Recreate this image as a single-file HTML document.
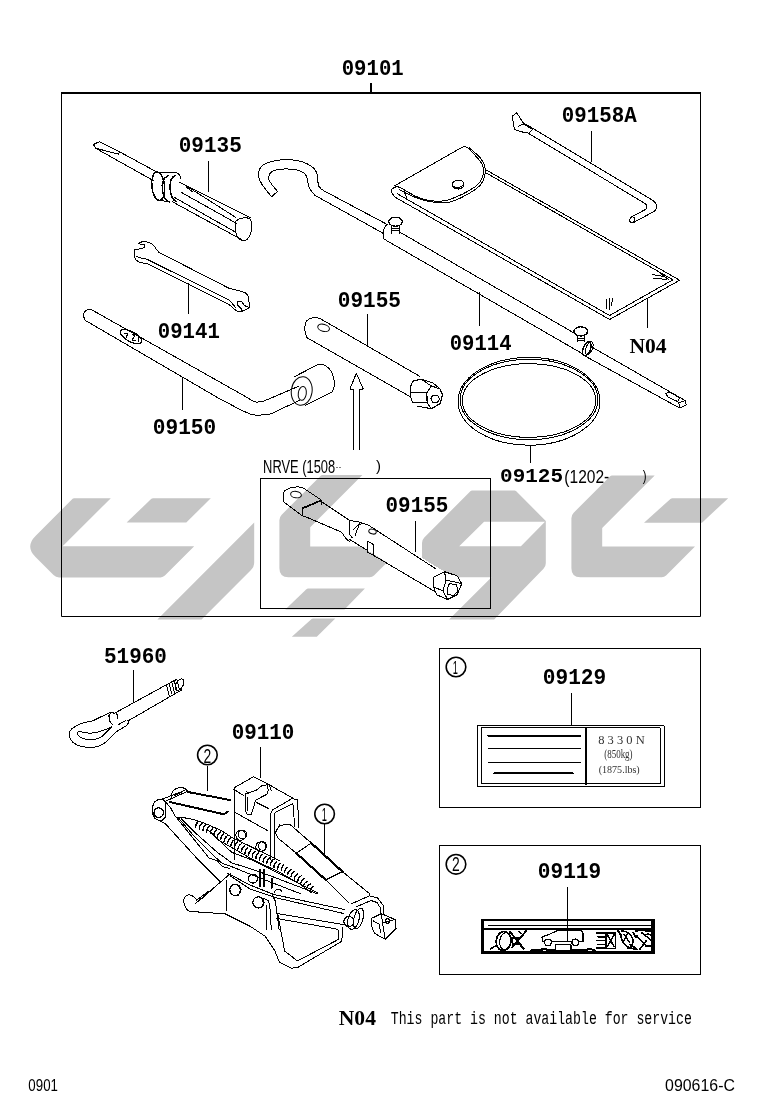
<!DOCTYPE html>
<html><head><meta charset="utf-8"><style>
html,body{margin:0;padding:0;background:#fff;}
svg{display:block;filter:grayscale(1);}
</style></head><body>
<svg width="760" height="1112" viewBox="0 0 760 1112">
<g fill="#c5c5c5" stroke="none"><path d="M72.6,498.8 Q73.2,498.2 74.0,498.2 L110.8,498.2 L62.6,546.3 L194.2,546.3 L164.9,575.6 Q163.1,577.4 160.6,577.4 L59.1,577.4 Q55.8,577.4 53.5,575.1 L35.5,557.1 Q24.9,546.5 35.5,535.9 Z" fill-rule="evenodd"/><path d="M151.1,499.0 Q152.0,498.2 153.2,498.2 L210.8,498.2 L186.3,522.6 L126.6,522.6 Z" fill-rule="evenodd"/><path d="M254.2,522.4 L254.2,562.3 Q254.2,566.9 251.0,570.1 L201.6,619.5 L157.4,619.5 Z" fill-rule="evenodd"/><path d="M320.7,475.7 Q321.3,475.1 322.1,475.1 L362.4,475.1 L310.2,527.3 L310.2,546.4 L403.0,546.4 L374.0,575.4 Q372.2,577.2 369.7,577.2 L288.4,577.2 Q279.4,577.2 279.4,568.2 L279.4,520.3 Q279.4,517.0 281.7,514.7 Z" fill-rule="evenodd"/><path d="M306.1,589.4 Q307.0,588.6 308.2,588.6 L364.9,588.6 L344.5,609.6 L285.3,609.6 Z" fill-rule="evenodd"/><path d="M311.6,618.9 Q312.2,618.4 313.0,618.4 L335.3,618.4 L316.8,636.8 L291.8,636.8 Z" fill-rule="evenodd"/><path d="M470.6,491.1 Q471.2,490.5 472.0,490.5 L514.6,490.5 Q515.4,490.5 516.0,491.1 L545.8,520.9 L545.8,563.2 Q545.8,566.5 543.5,568.8 L494.2,619.5 L449.1,619.5 L491.5,577.2 L434.5,577.2 Q432.0,577.2 430.2,575.4 L422.0,567.0 L422.0,543.0 Q422.0,539.7 424.3,537.4 Z M484.1,521.8 L545.0,521.8 L520.9,546.2 L459.2,546.2 Z" fill-rule="evenodd"/><path d="M610.4,476.0 Q611.0,475.4 611.8,475.4 L654.7,475.4 L602.2,527.9 L602.2,546.5 L695.0,546.5 L666.1,575.4 Q664.3,577.2 661.8,577.2 L580.4,577.2 Q571.4,577.2 571.4,568.2 L571.4,518.3 Q571.4,515.0 573.7,512.7 Z" fill-rule="evenodd"/><path d="M670.4,499.0 Q671.3,498.2 672.4,498.2 L728.2,498.2 L702.0,522.7 L644.0,522.7 Z" fill-rule="evenodd"/></g>
<g fill="none" stroke="#000">
<path d="M61.5,92 V616.5 H700.5 V92" stroke-width="1"/>
<line x1="61" y1="93" x2="701" y2="93" stroke-width="2"/>
<rect x="260.5" y="478.5" width="230" height="130" stroke-width="1"/>
<rect x="439.5" y="648.5" width="261" height="159" stroke-width="1"/>
<rect x="439.5" y="845.5" width="261" height="129" stroke-width="1"/>
<circle cx="456" cy="667" r="9.8" stroke-width="1.6"/>
<circle cx="456" cy="864.3" r="9.8" stroke-width="1.6"/>
<circle cx="207.4" cy="755" r="9.8" stroke-width="1.6"/>
<circle cx="324.6" cy="814" r="9.8" stroke-width="1.6"/>
</g>
<g stroke="#000" fill="none" stroke-linejoin="round" stroke-linecap="round" shape-rendering="crispEdges"><path d="M93.5,144.5 L99.5,141.6 L119.5,151.8 L118.6,154.2 L95.5,148.2 L93.5,144.5" stroke-width="1.0" fill="none"/><path d="M119.5,151.8 L158.7,173.0" stroke-width="1.0" fill="none"/><path d="M95.5,148.2 L154.1,181.0" stroke-width="1.0" fill="none"/><ellipse cx="158.2" cy="186.2" rx="6.4" ry="14.2" transform="rotate(-6 158.2 186.2)" stroke-width="1.5" fill="none"/><path d="M158.5,172 L174.8,172 C178,173 180.5,175.5 181,179" stroke-width="1.0" fill="none"/><path d="M160,200.3 L169.5,202" stroke-width="1.0" fill="none"/><path d="M168,175.5 C163.5,178 161.5,184 162.5,191 C163.5,197 166,201 169.5,202" stroke-width="1.5" fill="none"/><path d="M174.8,175.5 C171,177.5 169.5,183 170.2,190 C171,196 173,200 176,201.5" stroke-width="1.5" fill="none"/><path d="M179.4,182.2 L250.8,217.9" stroke-width="1.0" fill="none"/><path d="M172.5,201.8 L243.9,240.9" stroke-width="1.0" fill="none"/><path d="M236,221 C239,218 245,217 249.5,218.5 C252.5,221 252.5,228 250.5,234 C248.5,239 245,241.5 241.5,240.5 C238,239 235.5,234 235.2,228 C235,225 235.3,222.5 236,221" stroke-width="1.0" fill="none"/><path d="M184.0,184.5 L236.0,217.5" stroke-width="1.0" fill="none"/><path d="M181.7,192.6 L237.0,223.6" stroke-width="1.0" fill="none"/><path d="M174.5,197.5 L234.7,231.7" stroke-width="1.0" fill="none"/><path d="M187.0,187.5 L193.0,192.0" stroke-width="1.0" fill="none"/><path d="M158.8,252.3 C156,249 154.5,246.5 153.7,245.5 C152,243.5 150,242.5 147,242 C143,241.5 139.5,242 138.3,243.7 L144.3,244.8 L145.1,247 L140.8,248.8 L135,249.5 C134.5,252 134.5,255 134.8,257.4 C135.5,259.5 136.5,261 138.3,261.7 C141,262.8 144,263.4 146.8,263.4 L228.9,304.4 C231.5,306.5 234,309.5 237.5,311.3 L240,312.1" stroke-width="1.0" fill="none"/><path d="M136.6,256.5 C140,258 143.5,259 146.8,259.1 L228.9,300.1 C231.5,302 233.5,305 235.8,307.8" stroke-width="1.0" fill="none"/><path d="M158.8,252.3 L228.9,288.2" stroke-width="1.0" fill="none"/><path d="M228.9,288.2 C232,289 235,289.8 237.5,290.4 C241,291.2 244,292 246,293.3 C247.8,294.8 248.6,296 248.6,297.6 L249.5,307.8 L244.5,305.5 L241.5,301.5 L237,301 L237.5,305 L242,309.5 L240,312.1" stroke-width="1.0" fill="none"/><path d="M240.0,312.1 L249.5,307.8" stroke-width="1.0" fill="none"/><path d="M90.3,309 C86,309.5 83.5,312 83.7,316 C84,319 85,321 88,322" stroke-width="1.0" fill="none"/><path d="M90.3,309.0 L244.2,395.8" stroke-width="1.0" fill="none"/><path d="M88.0,322.0 L220.0,399.0" stroke-width="1.0" fill="none"/><path d="M244.2,395.8 C250,399 253,402 256.3,402.1 C262,402.3 266,400.5 269,399 L291,389.5 L299,386" stroke-width="1.0" fill="none"/><path d="M220,399 C232,405 242,411 250,414 C254,415.5 260,415.7 270.5,414 L295.8,402.1 L300,400" stroke-width="1.0" fill="none"/><ellipse cx="131" cy="336.6" rx="12" ry="5" transform="rotate(28 131 336.6)" stroke-width="1.3" fill="none"/><path d="M124,333 L128,333 L126,338 M132,334 L135,336 L132,340 L136,341 M139,336 L138,342" stroke-width="1.0" fill="none"/><ellipse cx="301.7" cy="391" rx="10.4" ry="14.3" transform="rotate(8 301.7 391)" stroke-width="1.0" fill="none"/><ellipse cx="302.3" cy="393.4" rx="4" ry="7" transform="rotate(8 302.3 393.4)" stroke-width="1.0" fill="none"/><path d="M294.2,376.8 L317.1,365.0" stroke-width="1.0" fill="none"/><path d="M305.3,405.3 L332.1,391.8" stroke-width="1.0" fill="none"/><path d="M317.1,365 C324,362.5 331,368 333.5,377 C335,384 334.5,389 332.1,391.8" stroke-width="1.0" fill="none"/><path d="M320.7,318.9 C316,316.5 310,317 306.5,321 C303.8,325 304.5,333 306.8,337.6" stroke-width="1.0" fill="none"/><path d="M320.7,318.9 L419.3,376.1" stroke-width="1.0" fill="none"/><path d="M306.8,337.6 L410.5,396.8" stroke-width="1.0" fill="none"/><ellipse cx="323.6" cy="327.8" rx="6" ry="3.5" transform="rotate(15 323.6 327.8)" stroke-width="1.0" fill="none"/><path d="M413.4,381 C410.5,384 409.8,390 410.5,395 C411,399 412,401.5 413.4,402.8" stroke-width="1.1" fill="none"/><path d="M413.4,381.0 L421.3,379.1 L431.2,386.0" stroke-width="1.0" fill="none"/><path d="M421.3,379.1 L433.1,383.0 L440.0,389.0" stroke-width="1.0" fill="none"/><path d="M431.2,386.0 L440.0,389.0 L442.6,394.9 L440.0,403.7 L431.2,408.7 L427.2,402.8 L426.8,392.9 L431.2,386.0" stroke-width="1.2" fill="none"/><path d="M410.5,392.9 L426.8,392.9" stroke-width="1.0" fill="none"/><path d="M413.4,402.8 L427.2,402.8" stroke-width="1.0" fill="none"/><path d="M417.0,406.0 L431.2,408.7" stroke-width="1.0" fill="none"/><path d="M432.8,395.0 L437.5,395.0 L439.5,398.8 L437.5,402.6 L432.8,402.6 L430.8,398.8 L432.8,395.0" stroke-width="1.0" fill="none"/><path d="M353.6,449.5 L353.6,389.0 L349.9,389.0 L356.4,373.2 L363.2,389.0 L359.1,389.0 L359.1,449.5" stroke-width="1.0" fill="none"/><path d="M269.7,194.4 C265,189 260,183 258.9,177.6 C258,172 259.5,167.5 263,165 C268,161.5 275,160.5 282,159.8 C291,159.2 300,160.5 307.2,163.8 C313,166.5 317,171 317.6,176 C318,180 317.5,184 319,186.5 C320.5,189 323,190.5 325,191.4 L388.2,225" stroke-width="1.0" fill="none"/><path d="M277.6,191.4 C273,186 269,182 268.7,178.5 C268.5,175 270.5,172 274,170.5 C279,168.8 287,168.5 295.4,169.7 C301,170.7 305.5,173 306.8,177 C308,181 308,185 309.5,188 C311,191.5 313,193.5 315.1,195.4 L384.2,233.9" stroke-width="1.0" fill="none"/><path d="M269.7,194.4 L271.7,196.6 L277.6,191.4" stroke-width="1.0" fill="none"/><path d="M386,225.5 C383.5,228 382.6,232 383.4,238.7" stroke-width="1.0" fill="none"/><path d="M400.3,232.4 L574.7,333.4" stroke-width="1.0" fill="none"/><path d="M383.4,238.7 L584.0,354.6" stroke-width="1.0" fill="none"/><ellipse cx="395.5" cy="221.7" rx="6.8" ry="4.5" stroke-width="1.3" fill="none"/><path d="M391.8,225.5 L391.8,233.5" stroke-width="1.0" fill="none"/><path d="M399.2,225.5 L399.2,233.5" stroke-width="1.0" fill="none"/><path d="M392.0,228.0 L399.0,228.0" stroke-width="1.0" fill="none"/><path d="M392.0,230.5 L399.0,230.5" stroke-width="1.0" fill="none"/><ellipse cx="580.7" cy="331.4" rx="6.8" ry="4.6" stroke-width="1.3" fill="none"/><path d="M577.5,335.5 L577.5,341.5" stroke-width="1.0" fill="none"/><path d="M584.0,335.5 L584.0,341.5" stroke-width="1.0" fill="none"/><path d="M577.5,338.0 L584.0,338.0" stroke-width="1.0" fill="none"/><path d="M577.5,340.2 L584.0,340.2" stroke-width="1.0" fill="none"/><ellipse cx="586.8" cy="348.8" rx="3.6" ry="7.4" transform="rotate(22 586.8 348.8)" stroke-width="1.4" fill="none"/><ellipse cx="589.2" cy="348.2" rx="3.2" ry="6.8" transform="rotate(22 589.2 348.2)" stroke-width="1.0" fill="none"/><path d="M592.2,347.2 L685.2,400.6" stroke-width="1.0" fill="none"/><path d="M584.0,355.5 L677.9,407.1" stroke-width="1.0" fill="none"/><path d="M685.2,400.6 L686.2,404.8 L679.7,408.0 L677.9,407.1" stroke-width="1.0" fill="none"/><path d="M678.8,402.6 L685.2,400.6" stroke-width="1.0" fill="none"/><path d="M678.8,402.6 L679.7,408.0" stroke-width="1.0" fill="none"/><path d="M665.9,393.3 L670.5,392.4 L679.7,397.9 L677.9,401.6 L667.7,397.0 L665.9,393.3" stroke-width="1.0" fill="none"/><path d="M394.5,185.8 L462.4,147.1 C465,146.2 467.5,147.2 469,148.5 L479.7,160.5 C483,164.5 484,169.5 483.2,174 C482.5,179 479.5,183.5 475.5,186.5 C469,191 460,196 448.2,200 C440,202 432,201.5 424,199.5 C415,197 408,192 402,188.5 C399,187 396.5,186 394.5,185.8" stroke-width="1.0" fill="none"/><path d="M397.6,186.6 C393,187.5 390.3,189.5 391,191.5 L394.5,196.8" stroke-width="1.0" fill="none"/><path d="M399,189.5 C405,192 411,196 419,198.8 C428,202 438,203 448,202.8 C458,200 468,194.5 476,189 C481.5,185 485,179 485.3,172 C485.5,166 483,161 479.5,157 L469.5,147.5" stroke-width="1.0" fill="none"/><ellipse cx="458" cy="183.8" rx="5.6" ry="3.6" transform="rotate(-8 458 183.8)" stroke-width="1.2" fill="none"/><path d="M452.5,184.5 C452.5,187.5 455,189 458.5,189 C462,188.8 464,187 463.8,184" stroke-width="1.2" fill="none"/><path d="M394.5,196.8 L609.6,319.5 L679.7,280.2 L485.3,169.5" stroke-width="1.0" fill="none"/><path d="M397.5,193.8 L609.6,315.5 L672.9,279.8 L485.5,172.6" stroke-width="1.0" fill="none"/><path d="M404.0,191.0 L406.5,197.0" stroke-width="1.0" fill="none"/><path d="M652,274.5 L664,276.5 M653,278 L667,279.5 M660,273 L669,279.8" stroke-width="1.0" fill="none"/><path d="M606,299 L606.5,309 M610,298 L609,310 M612.5,299 L611.5,306" stroke-width="1.0" fill="none"/><path d="M512.1,116.1 L516.8,112.9 L523.2,122.8 L532.6,128.3 L653.0,200.5" stroke-width="1.0" fill="none"/><path d="M512.1,116.1 L514.5,129.5 L523.2,132.2 L527.9,133.0 L644.7,203.3" stroke-width="1.0" fill="none"/><path d="M518.4,126.3 L523.2,123.9 L532.6,129.5 L529.5,132.2" stroke-width="1.0" fill="none"/><path d="M653,200.5 C657,203 658,208 654,211.5 L633.5,222.5" stroke-width="1.0" fill="none"/><path d="M644.7,203.3 C647.5,205 647.5,208 645.5,209.5 L630.9,217.1" stroke-width="1.0" fill="none"/><ellipse cx="632.2" cy="219.8" rx="2.3" ry="3" transform="rotate(20 632.2 219.8)" stroke-width="1.0" fill="none"/><ellipse cx="529" cy="401.3" rx="71" ry="43.9" stroke-width="1.0" fill="none"/><ellipse cx="529" cy="399.5" rx="68.9" ry="40.2" stroke-width="1.0" fill="none"/><ellipse cx="529" cy="400.5" rx="66.8" ry="36.9" stroke-width="1.0" fill="none"/><path d="M113.3,713.9 L166.0,685.0" stroke-width="1.0" fill="none"/><path d="M127.9,721.0 L168.5,697.5" stroke-width="1.0" fill="none"/><ellipse cx="179.5" cy="684.8" rx="3.5" ry="6.5" transform="rotate(30 179.5 684.8)" stroke-width="1.0" fill="none"/><path d="M166,685 L176.5,679.5 M168.5,697.5 L181.8,689.8" stroke-width="1.0" fill="none"/><path d="M166.5,684.5 L169.1,695.5" stroke-width="1.0" fill="none"/><path d="M169.1,683.2 L171.7,694.0" stroke-width="1.0" fill="none"/><path d="M171.7,681.9 L174.3,692.5" stroke-width="1.0" fill="none"/><path d="M174.3,680.6 L176.9,691.0" stroke-width="1.0" fill="none"/><path d="M176.9,679.3 L179.5,689.5" stroke-width="1.0" fill="none"/><path d="M111.6,712.2 C107,713.5 103,716 92.8,720.8 C85,722 77,724.5 71.5,729 C68.5,732 68.8,737 70.8,740 C73.5,744 79,746.8 88,747.5 C96,747.8 102,745.5 106.5,741.5 C111,737.5 114.5,733 118.4,730.2 C121.5,728.5 125,727 127,725 C129,723 128.5,721 127.9,720.5" stroke-width="1.0" fill="none"/><path d="M111.6,726.7 C106,730 100,731.5 96,732.5 C91,733.5 86,733.3 82,732 C79,731 77,732 77.4,733.5 C78,736 82,738.5 87.7,739.6 C93,740.3 98,739 102,736.5 C105,734 108,730.5 111.6,726.7" stroke-width="1.0" fill="none"/><path d="M108,717 L110.5,713 L113.5,712.5 M110,716.5 C109,720 110,723 113,724.5" stroke-width="1.0" fill="none"/><path d="M113.3,713.9 L116.5,712.5 L118,718.5" stroke-width="1.0" fill="none"/><path d="M118.5,724.5 L126,720.5" stroke-width="1.0" fill="none"/><path d="M153.2,804.2 C155,801 158,799.5 160.5,799.5 C163,798.8 165,800.5 165.8,804.2 L165.8,816.8 C164,819.5 161.5,820.8 159.5,820.5 C156,820 153,817 152.6,812 C152.4,808.5 152.6,806 153.2,804.2" stroke-width="1.2" fill="none"/><circle cx="158.7" cy="812.6" r="4.8" stroke-width="1.2" fill="none"/><path d="M171.8,797 C171,792.5 174,789 178.5,787.8 C181.5,787 185,787.5 188.4,792.1" stroke-width="1.2" fill="none"/><path d="M188.4,792.1 L230.0,800.0" stroke-width="2" fill="none"/><path d="M170.0,802.1 L223.7,814.2 L227.9,811.6" stroke-width="2" fill="none"/><path d="M162.6,799.0 L184.7,790.5" stroke-width="1.0" fill="none"/><path d="M164.7,801.6 L186.8,791.6" stroke-width="1.0" fill="none"/><path d="M174.0,796.0 L183.0,791.5" stroke-width="1.0" fill="none"/><path d="M159.5,820.5 L165.8,824.2 L198.4,860.0 L220.7,882.0" stroke-width="1.0" fill="none"/><path d="M165.8,802.1 L171.0,808.4 L174.2,814.7 L209.0,858.0 L217.4,861.0 L222.6,866.8 L229.2,868.2" stroke-width="1.0" fill="none"/><path d="M178.4,817.9 L195.0,837.2 L221.3,862.9 L230.5,866.2 L251.6,874.7 L300.0,893.5" stroke-width="1.0" fill="none"/><path d="M181.6,819.0 L195.0,832.6 L217.4,852.4 L231.8,862.9 L252.9,869.5 L273.7,877.1 L317.9,894.0" stroke-width="1.0" fill="none"/><path d="M208.2,830.0 L231.8,852.4 L252.9,860.3 L317.9,892.9" stroke-width="1.0" fill="none"/><path d="M227.9,873.4 L250.0,885.0 L273.7,894.5 L344.7,909.5" stroke-width="1.0" fill="none"/><path d="M230.5,876.0 L250.0,889.0 L275.3,897.6 L343.2,913.4" stroke-width="1.0" fill="none"/><path d="M276.8,913.4 L343.2,924.5" stroke-width="1.0" fill="none"/><path d="M230.5,873.4 L220.7,882.0 L195.0,903.7" stroke-width="1.0" fill="none"/><path d="M226.6,880.0 L226.6,910.3" stroke-width="1.0" fill="none"/><path d="M263.4,898.4 L268.7,901.0 L270.0,909.0 L271.3,930.0" stroke-width="1.0" fill="none"/><path d="M266.7,906.3 L266.7,930.0" stroke-width="1.0" fill="none"/><path d="M272.6,895.8 L275.3,901.0 L279.2,930.0" stroke-width="1.0" fill="none"/><circle cx="235.4" cy="889.9" r="5.6" stroke-width="1.2" fill="none"/><path d="M237,884.8 C240.5,886.5 241.5,892 238.5,895" stroke-width="1.2" fill="none"/><circle cx="258.4" cy="902.4" r="5.6" stroke-width="1.2" fill="none"/><path d="M260,897.3 C263.5,899 264.5,904.5 261.5,907.5" stroke-width="1.2" fill="none"/><circle cx="252.9" cy="878.7" r="4.4" stroke-width="1.2" fill="none"/><path d="M260.1,870.1 L260.1,886.6" stroke-width="1.6" fill="none"/><path d="M264.1,870.1 L264.1,886.6" stroke-width="1.6" fill="none"/><path d="M271.8,878.7 L271.8,887.9" stroke-width="1.6" fill="none"/><path d="M274,893 C275,889 279,888 281.8,891" stroke-width="1.2" fill="none"/><path d="M177.4,817.1 C186,817.5 194,819.5 201.3,822 C210,825.5 216,828 221.8,831 C226,833.5 229,835.5 232.1,837.5 L280,861" stroke-width="1.0" fill="none"/><path d="M218.4,840 L252.6,859.5 L280,872.5 L300,884 L312,893" stroke-width="1.0" fill="none"/><path d="M195.7,827.4 Q195.5,823.9 198.3,821.6" stroke-width="1.3" fill="none"/><path d="M199.4,829.0 Q199.2,825.5 202.0,823.2" stroke-width="1.3" fill="none"/><path d="M203.0,830.7 Q202.9,827.1 205.6,824.8" stroke-width="1.3" fill="none"/><path d="M206.7,832.3 Q206.5,828.7 209.3,826.4" stroke-width="1.3" fill="none"/><path d="M210.3,833.9 Q210.2,830.3 212.9,828.0" stroke-width="1.3" fill="none"/><path d="M213.6,835.5 Q213.8,831.9 216.8,829.9" stroke-width="1.3" fill="none"/><path d="M217.1,837.5 Q217.3,833.9 220.3,831.9" stroke-width="1.3" fill="none"/><path d="M220.6,839.5 Q220.8,835.9 223.8,833.9" stroke-width="1.3" fill="none"/><path d="M224.1,841.4 Q224.3,837.9 227.2,835.9" stroke-width="1.3" fill="none"/><path d="M227.5,843.4 Q227.7,839.8 230.7,837.9" stroke-width="1.3" fill="none"/><path d="M230.9,845.4 Q231.2,841.9 234.2,839.9" stroke-width="1.3" fill="none"/><path d="M234.4,847.5 Q234.6,843.9 237.6,842.0" stroke-width="1.3" fill="none"/><path d="M237.8,849.5 Q238.1,845.9 241.1,844.0" stroke-width="1.3" fill="none"/><path d="M241.3,851.5 Q241.5,848.0 244.5,846.0" stroke-width="1.3" fill="none"/><path d="M245.0,853.6 Q245.0,850.0 247.8,847.8" stroke-width="1.3" fill="none"/><path d="M248.7,855.3 Q248.6,851.7 251.4,849.5" stroke-width="1.3" fill="none"/><path d="M252.3,857.0 Q252.2,853.4 255.0,851.2" stroke-width="1.3" fill="none"/><path d="M255.9,858.7 Q255.8,855.1 258.6,852.9" stroke-width="1.3" fill="none"/><path d="M259.5,860.4 Q259.4,856.9 262.2,854.6" stroke-width="1.3" fill="none"/><path d="M263.1,862.1 Q263.0,858.6 265.9,856.4" stroke-width="1.3" fill="none"/><path d="M266.7,863.9 Q266.7,860.3 269.5,858.1" stroke-width="1.3" fill="none"/><path d="M270.3,865.6 Q270.3,862.0 273.1,859.8" stroke-width="1.3" fill="none"/><path d="M274.0,867.3 Q273.9,863.7 276.7,861.5" stroke-width="1.3" fill="none"/><path d="M277.6,869.0 Q277.5,865.4 280.3,863.2" stroke-width="1.3" fill="none"/><path d="M281.2,870.7 Q281.1,867.2 283.9,864.9" stroke-width="1.3" fill="none"/><path d="M284.3,872.4 Q284.7,868.8 287.8,867.1" stroke-width="1.3" fill="none"/><path d="M287.6,874.6 Q288.1,871.0 291.2,869.3" stroke-width="1.3" fill="none"/><path d="M291.0,876.8 Q291.4,873.3 294.5,871.5" stroke-width="1.3" fill="none"/><path d="M294.3,879.0 Q294.7,875.5 297.8,873.7" stroke-width="1.3" fill="none"/><path d="M297.6,881.3 Q298.1,877.7 301.2,875.9" stroke-width="1.3" fill="none"/><path d="M300.5,883.5 Q301.3,880.1 304.6,878.6" stroke-width="1.3" fill="none"/><path d="M303.5,886.1 Q304.3,882.6 307.6,881.2" stroke-width="1.3" fill="none"/><path d="M306.6,888.7 Q307.4,885.2 310.7,883.8" stroke-width="1.3" fill="none"/><path d="M309.7,891.2 Q310.5,887.7 313.8,886.3" stroke-width="1.3" fill="none"/><path d="M234.0,859.5 L234.0,787.9 L253.4,776.8 L269.2,784.7 L271.3,791.0" stroke-width="1.0" fill="none"/><path d="M234.0,789.5 L244.0,795.8" stroke-width="1.0" fill="none"/><path d="M245,794.2 L256.6,790 L261.8,785.8 L267.1,784.7 L268.2,790 L267.1,794.2 L260.8,797.4 L255.5,800.5 L253.4,807.9 L251.3,814.2 L247.1,814.2 L245,810 Z" stroke-width="1.0" fill="none"/><path d="M247.5,797.0 L247.5,811.0" stroke-width="1.0" fill="none"/><path d="M256.6,802.6 L268.2,808.4" stroke-width="1.0" fill="none"/><path d="M234.5,812.1 L268.2,831.0" stroke-width="1.0" fill="none"/><path d="M246.5,791.5 L249.0,794.0" stroke-width="1.0" fill="none"/><path d="M270.3,859.5 L270.3,814.2 L272.4,810.0 L292.4,798.4 L297.6,800.0 L298.7,827.9" stroke-width="1.0" fill="none"/><path d="M274.5,859.5 L274.5,814.2 L275.5,812.1 L292.4,803.7 L293.4,805.8 L294.5,826.8" stroke-width="1.0" fill="none"/><path d="M269.2,784.7 L275.5,788.4 L292.4,797.9" stroke-width="1.0" fill="none"/><circle cx="240.8" cy="835.3" r="5.0" stroke-width="1.0" fill="none"/><circle cx="242.5" cy="834.5" r="4.2" stroke-width="1.0" fill="none"/><circle cx="260.8" cy="846.8" r="5.0" stroke-width="1.0" fill="none"/><circle cx="262.5" cy="846" r="4.2" stroke-width="1.0" fill="none"/><path d="M275.3,832.1 C277,828 281,825 284.5,824.5 C287,824 289,824 289.7,824.2" stroke-width="1.0" fill="none"/><path d="M289.7,824.2 L310.8,842.6" stroke-width="1.0" fill="none"/><path d="M310.8,842.6 L342.4,871.6" stroke-width="2.2" fill="none"/><path d="M342.4,871.6 L370.0,894.0" stroke-width="1.0" fill="none"/><path d="M277.9,838.0 L296.3,853.2" stroke-width="1.0" fill="none"/><path d="M296.3,853.2 L325.3,879.5" stroke-width="2.2" fill="none"/><path d="M325.3,879.5 L349.0,903.2" stroke-width="1.0" fill="none"/><path d="M296.3,853.2 L310.8,843.3" stroke-width="1.0" fill="none"/><path d="M325.3,880.1 L342.4,871.6" stroke-width="1.0" fill="none"/><path d="M275.3,832.1 L277.9,838.0" stroke-width="1.0" fill="none"/><path d="M275.5,833.2 L279.7,824.7" stroke-width="1.0" fill="none"/><circle cx="348.8" cy="921.5" r="5" stroke-width="1.2" fill="none"/><ellipse cx="353.5" cy="919.5" rx="5.5" ry="10" transform="rotate(15 353.5 919.5)" stroke-width="1.1" fill="none"/><ellipse cx="358.5" cy="918.5" rx="4.5" ry="10.5" transform="rotate(15 358.5 918.5)" stroke-width="1.1" fill="none"/><path d="M351.7,903.7 L369.5,895.8 L377.4,897.8 L383.3,905.7 L383.3,913.6" stroke-width="1.0" fill="none"/><path d="M356.0,907.0 L371.0,900.5 L377.0,902.5 L380.5,908.0 L380.5,914.0" stroke-width="1.0" fill="none"/><path d="M370.0,894.0 L369.5,895.8" stroke-width="1.0" fill="none"/><path d="M371.4,918.5 L381.3,913.6 L395.1,919.5 L396.1,928.4 L385.3,939.2 L374.4,933.3 L371.4,925.4 L371.4,918.5" stroke-width="1.0" fill="none"/><path d="M381.3,913.6 L382.5,923.0 L395.1,919.5" stroke-width="1.0" fill="none"/><path d="M382.5,923.0 L385.3,939.2" stroke-width="1.0" fill="none"/><path d="M373.5,921.0 L379.5,924.5 L380.5,933.0" stroke-width="1.0" fill="none"/><circle cx="387.5" cy="921" r="2.2" stroke-width="1.0" fill="none"/><path d="M226.2,877.1 L197.8,902 C196,898.5 193,895.5 189.5,894.9 C186.5,894.6 184.3,896 183.6,900.8 C184,905 186,909.5 189.5,911.4 L225,913.8 L251,926.8 L265.3,936.3 L274.7,950.5 L279.5,962.4 L291.3,968.3 L298.4,967.1 L341.8,941.2 L342.8,927.4" stroke-width="1.0" fill="none"/><path d="M208.4,891.3 L197.0,900.0" stroke-width="1.0" fill="none"/><path d="M266.5,905.5 L266.5,929.2" stroke-width="1.0" fill="none"/><path d="M277.7,913.6 L284.6,951.0 L297.4,960.9 L338.9,939.2 L337.9,929.3 L276.7,918.5" stroke-width="1.0" fill="none"/><rect x="477.5" y="725.5" width="186.5" height="61" stroke-width="1" fill="none"/><rect x="481" y="727.8" width="179" height="56" stroke-width="1" fill="none"/><path d="M586.0,727.8 L586.0,783.8" stroke-width="1.8" fill="none"/><path d="M488.0,735.6 L580.5,735.6" stroke-width="2" fill="none"/><path d="M488.0,748.5 L580.5,748.5" stroke-width="1.0" fill="none"/><path d="M488.0,762.4 L580.5,762.4" stroke-width="1.0" fill="none"/><path d="M494.2,773.4 L572.6,773.4" stroke-width="2" fill="none"/><path d="M481,919 H655 V954 H481 Z M484,921 V951 H651 V921 Z" fill="#000" stroke="none" fill-rule="evenodd"/><rect x="484" y="928" width="167" height="2" fill="#000" stroke="none"/><rect x="488" y="925" width="163" height="1" fill="#000" stroke="none"/><ellipse cx="503.5" cy="941" rx="7.3" ry="9.6" transform="rotate(8 503.5 941)" stroke-width="1.6" fill="none"/><ellipse cx="505.5" cy="941.2" rx="5.8" ry="8.7" transform="rotate(8 505.5 941.2)" stroke-width="1.2" fill="none"/><path d="M490.5,949 L496,945.5 L499,949" stroke-width="1.5" fill="none"/><path d="M510.2,932.1 L523.8,948.7 M526.2,930.9 L512,947.5" stroke-width="2" fill="none"/><rect x="512.5" y="938" width="6" height="6" stroke-width="1.2" fill="none"/><path d="M518,931 L522,934 M520,946 L525,949" stroke-width="1.2" fill="none"/><path d="M531,950.5 L541,950.5 L543,948.5 L546,949.5 L555,950.5" stroke-width="2.2" fill="none"/><path d="M542.8,941.4 L542,937.1 L548.8,934.5 L558.2,930.3 L581.3,930.3 L583,933.7 L583,941.4 L579,941.4 M571.5,941.4 L551.5,941.4 M544.5,941.4 L542.8,941.4" stroke-width="1.2" fill="none"/><circle cx="548" cy="942.4" r="3.3" stroke-width="1.3" fill="none"/><circle cx="575.3" cy="942.4" r="3.3" stroke-width="1.3" fill="none"/><rect x="555.7" y="944.8" width="15.3" height="6" stroke-width="1.2" fill="#fff"/><path d="M571,950.5 L586,950.5 L589,948.5 L595,950.5" stroke-width="2.2" fill="none"/><rect x="606" y="932.8" width="9.5" height="15.8" stroke-width="1.6" fill="none"/><path d="M607.5,935 L614,946.5 M614,935 L607.5,946.5" stroke-width="1.5" fill="none"/><path d="M596.5,933 L606,933 M598,936.8 L606,936.8 M596.5,940.5 L606,940.5 M598,944.2 L606,944.2 M596.5,948 L606,948" stroke-width="1.4" fill="none"/><path d="M618,931 L621,935 C621,941 625,946 630,948 L637,949.5" stroke-width="1.8" fill="none"/><path d="M622,931 C627,931 632,935 633,940 C633.5,944 631,947 628,948.5" stroke-width="1.6" fill="none"/><path d="M624,934 L630,943 M628,932.5 L624,941 M633,932 L636,938 M630,945 L636,948" stroke-width="1.4" fill="none"/><path d="M636,931 C641,930 646,931 650,931 M637,936 L646,946 L651,946 M640,949 L646,941 M642,933 L651,940" stroke-width="1.5" fill="none"/><path d="M645,935 C648,933 650,934 651,936" stroke-width="1.2" fill="none"/><path d="M349.7,520.5 L359.2,522.1 L368.7,525.3 L444.5,571.7 L457.1,575.8 L461.8,583.7 L457.1,594.7 L447.6,599.5 L436.6,594.7 L435,591.6 L349.7,539.5 Z" stroke-width="0" fill="#fff"/><path d="M321.3,500 L302.4,487.4 C295,486 286,488 283.6,492.5 C283,495 283.2,498 283.4,501.6 L302.4,515.8 L302.4,507.9 L321.3,500 L321.3,504.7" stroke-width="1.0" fill="none"/><ellipse cx="296" cy="494.6" rx="5.4" ry="3.2" transform="rotate(8 296 494.6)" stroke-width="1.0" fill="none"/><path d="M302.4,507.9 L302.4,515.8" stroke-width="1.0" fill="none"/><path d="M303.0,508.5 L320.5,501.0" stroke-width="1.0" fill="none"/><path d="M321.3,501.6 L349.7,520.5" stroke-width="1.0" fill="none"/><path d="M302.4,515.8 C303.5,516.2 304.5,516.6 305.5,516.7 L340.3,531.6 C343,533.5 344.5,536 345.5,538 C346.5,539.5 347.5,540.5 349.7,541.3" stroke-width="1.0" fill="none"/><path d="M349.7,520.5 L359.2,522.1 L368.7,525.3" stroke-width="1.0" fill="none"/><path d="M349.7,520.5 L349.7,534.7 L352.0,537.5" stroke-width="1.0" fill="none"/><path d="M352.9,530.0 L357.6,525.3 L362.0,523.5" stroke-width="1.0" fill="none"/><path d="M355.0,535.5 L359.5,524.0" stroke-width="1.0" fill="none"/><ellipse cx="372.5" cy="531.6" rx="3.8" ry="2.3" transform="rotate(15 372.5 531.6)" stroke-width="1.0" fill="none"/><path d="M349.7,539.5 L367.1,550.2" stroke-width="1.0" fill="none"/><path d="M367.1,541.0 L367.1,552.0 L373.4,555.3 L373.4,544.5 L367.1,541.0" stroke-width="1.0" fill="none"/><path d="M368.7,525.3 L436.0,569.0" stroke-width="1.0" fill="none"/><path d="M373.4,555.3 L435.0,591.6" stroke-width="1.0" fill="none"/><path d="M433.4,577.4 L444.5,571.7 L457.1,575.8 L461.8,583.7 L457.1,594.7 L447.6,599.5 L436.6,594.7 L433.4,586.8 L433.4,577.4" stroke-width="1.0" fill="none"/><path d="M444.5,571.7 L446.0,580.0 L461.8,583.7" stroke-width="1.0" fill="none"/><path d="M446.0,580.0 L443.0,591.0 L447.6,599.5" stroke-width="1.0" fill="none"/><path d="M443.0,591.0 L433.4,586.8" stroke-width="1.0" fill="none"/><path d="M449.5,583.5 L456.5,585.0 L458.0,590.5 L454.0,595.5 L448.0,594.5 L447.0,589.0 L449.5,583.5" stroke-width="1.0" fill="none"/></g>
<g stroke="#000" fill="none" shape-rendering="crispEdges"><line x1="371" y1="83" x2="371" y2="92" stroke-width="2"/><line x1="208.6" y1="161" x2="208.6" y2="191.8" stroke-width="1"/><line x1="591.4" y1="131" x2="591.4" y2="162.4" stroke-width="1"/><line x1="188" y1="283" x2="188" y2="314" stroke-width="1"/><line x1="367.7" y1="314" x2="367.7" y2="346.6" stroke-width="1"/><line x1="479.5" y1="292" x2="479.5" y2="326" stroke-width="1"/><line x1="647.8" y1="298" x2="647.8" y2="328" stroke-width="1"/><line x1="182.4" y1="377" x2="182.4" y2="410" stroke-width="1"/><line x1="530.7" y1="446" x2="530.7" y2="463" stroke-width="1"/><line x1="415.8" y1="520.5" x2="415.8" y2="552" stroke-width="1"/><line x1="133.7" y1="669.5" x2="133.7" y2="702.4" stroke-width="1"/><line x1="260.8" y1="746.8" x2="260.8" y2="778.2" stroke-width="1"/><line x1="571.9" y1="693.4" x2="571.9" y2="725.5" stroke-width="1"/><line x1="567" y1="887" x2="567" y2="942" stroke-width="1"/><line x1="207.4" y1="765.5" x2="207.4" y2="791" stroke-width="1"/><line x1="324.4" y1="824" x2="324.4" y2="853.7" stroke-width="1"/></g>
<g><text transform="matrix(0.20690,0,0,0.22500,341.66,74.78)" font-family="Liberation Mono" font-weight="bold" font-style="normal" font-size="100" fill="#000" style="white-space:pre">09101</text><text transform="matrix(0.21003,0,0,0.22647,178.74,152.37)" font-family="Liberation Mono" font-weight="bold" font-style="normal" font-size="100" fill="#000" style="white-space:pre">09135</text><text transform="matrix(0.20819,0,0,0.21471,561.75,121.69)" font-family="Liberation Mono" font-weight="bold" font-style="normal" font-size="100" fill="#000" style="white-space:pre">09158A</text><text transform="matrix(0.20690,0,0,0.22059,157.76,337.68)" font-family="Liberation Mono" font-weight="bold" font-style="normal" font-size="100" fill="#000" style="white-space:pre">09141</text><text transform="matrix(0.21107,0,0,0.22500,337.73,306.88)" font-family="Liberation Mono" font-weight="bold" font-style="normal" font-size="100" fill="#000" style="white-space:pre">09155</text><text transform="matrix(0.20619,0,0,0.22206,449.76,350.08)" font-family="Liberation Mono" font-weight="bold" font-style="normal" font-size="100" fill="#000" style="white-space:pre">09114</text><text transform="matrix(0.21181,0,0,0.22206,152.73,433.68)" font-family="Liberation Mono" font-weight="bold" font-style="normal" font-size="100" fill="#000" style="white-space:pre">09150</text><text transform="matrix(0.21003,0,0,0.21029,500.04,482.49)" font-family="Liberation Mono" font-weight="bold" font-style="normal" font-size="100" fill="#000" style="white-space:pre">09125</text><text transform="matrix(0.20969,0,0,0.21912,385.54,512.08)" font-family="Liberation Mono" font-weight="bold" font-style="normal" font-size="100" fill="#000" style="white-space:pre">09155</text><text transform="matrix(0.21003,0,0,0.22059,103.95,662.68)" font-family="Liberation Mono" font-weight="bold" font-style="normal" font-size="100" fill="#000" style="white-space:pre">51960</text><text transform="matrix(0.20937,0,0,0.22500,231.64,738.88)" font-family="Liberation Mono" font-weight="bold" font-style="normal" font-size="100" fill="#000" style="white-space:pre">09110</text><text transform="matrix(0.21181,0,0,0.21618,542.73,684.38)" font-family="Liberation Mono" font-weight="bold" font-style="normal" font-size="100" fill="#000" style="white-space:pre">09129</text><text transform="matrix(0.21181,0,0,0.21618,537.73,878.38)" font-family="Liberation Mono" font-weight="bold" font-style="normal" font-size="100" fill="#000" style="white-space:pre">09119</text><text transform="matrix(0.21607,0,0,0.21791,629.47,353.26)" font-family="Liberation Serif" font-weight="bold" font-style="normal" font-size="100" fill="#000" style="white-space:pre">N04</text><text transform="matrix(0.21607,0,0,0.20448,338.77,1025.09)" font-family="Liberation Serif" font-weight="bold" font-style="normal" font-size="100" fill="#000" style="white-space:pre">N04</text><text transform="matrix(0.12907,0,0,0.17971,263.07,472.50)" font-family="Liberation Sans" font-weight="normal" font-style="normal" font-size="100" fill="#000" style="white-space:pre">NRVE (1508</text><text transform="matrix(0.15000,0,0,0.15426,375.95,470.96)" font-family="Liberation Sans" font-weight="normal" font-style="normal" font-size="100" fill="#000" style="white-space:pre">)</text><text transform="matrix(0.15520,0,0,0.17465,564.37,482.53)" font-family="Liberation Sans" font-weight="normal" font-style="normal" font-size="100" fill="#000" style="white-space:pre">(1202-</text><text transform="matrix(0.11538,0,0,0.15106,642.78,480.73)" font-family="Liberation Sans" font-weight="normal" font-style="normal" font-size="100" fill="#000" style="white-space:pre">)</text><text transform="matrix(0.13214,0,0,0.18333,390.77,1023.90)" font-family="Liberation Mono" font-weight="normal" font-style="normal" font-size="100" fill="#000" style="white-space:pre">This part is not available for service</text><text transform="matrix(0.13286,0,0,0.16901,28.37,1090.73)" font-family="Liberation Sans" font-weight="normal" font-style="normal" font-size="100" fill="#000" style="white-space:pre">0901</text><text transform="matrix(0.15916,0,0,0.15634,665.06,1090.64)" font-family="Liberation Sans" font-weight="normal" font-style="normal" font-size="100" fill="#000" style="white-space:pre">090616-C</text><text transform="matrix(0.09302,0,0,0.18841,452.76,674.00)" font-family="Liberation Sans" font-weight="normal" font-style="normal" font-size="100" fill="#000" style="white-space:pre">1</text><text transform="matrix(0.13913,0,0,0.20286,452.10,870.90)" font-family="Liberation Sans" font-weight="normal" font-style="normal" font-size="100" fill="#000" style="white-space:pre">2</text><text transform="matrix(0.13913,0,0,0.20000,203.50,762.50)" font-family="Liberation Sans" font-weight="normal" font-style="normal" font-size="100" fill="#000" style="white-space:pre">2</text><text transform="matrix(0.09302,0,0,0.18841,321.76,820.50)" font-family="Liberation Sans" font-weight="normal" font-style="normal" font-size="100" fill="#000" style="white-space:pre">1</text><text transform="matrix(0.12514,0,0,0.11791,598.20,743.56)" font-family="Liberation Serif" font-weight="normal" font-style="normal" font-size="100" fill="#333" style="white-space:pre">8 3 3 0 N</text><text transform="matrix(0.08961,0,0,0.11444,604.24,758.00)" font-family="Liberation Serif" font-weight="normal" font-style="normal" font-size="100" fill="#333" style="white-space:pre">(850kg)</text><text transform="matrix(0.10050,0,0,0.10556,598.70,773.18)" font-family="Liberation Serif" font-weight="normal" font-style="normal" font-size="100" fill="#333" style="white-space:pre">(1875.lbs)</text><rect x="336.5" y="467" width="1" height="1"/><rect x="339.5" y="467" width="1" height="1"/></g>
</svg>
</body></html>
